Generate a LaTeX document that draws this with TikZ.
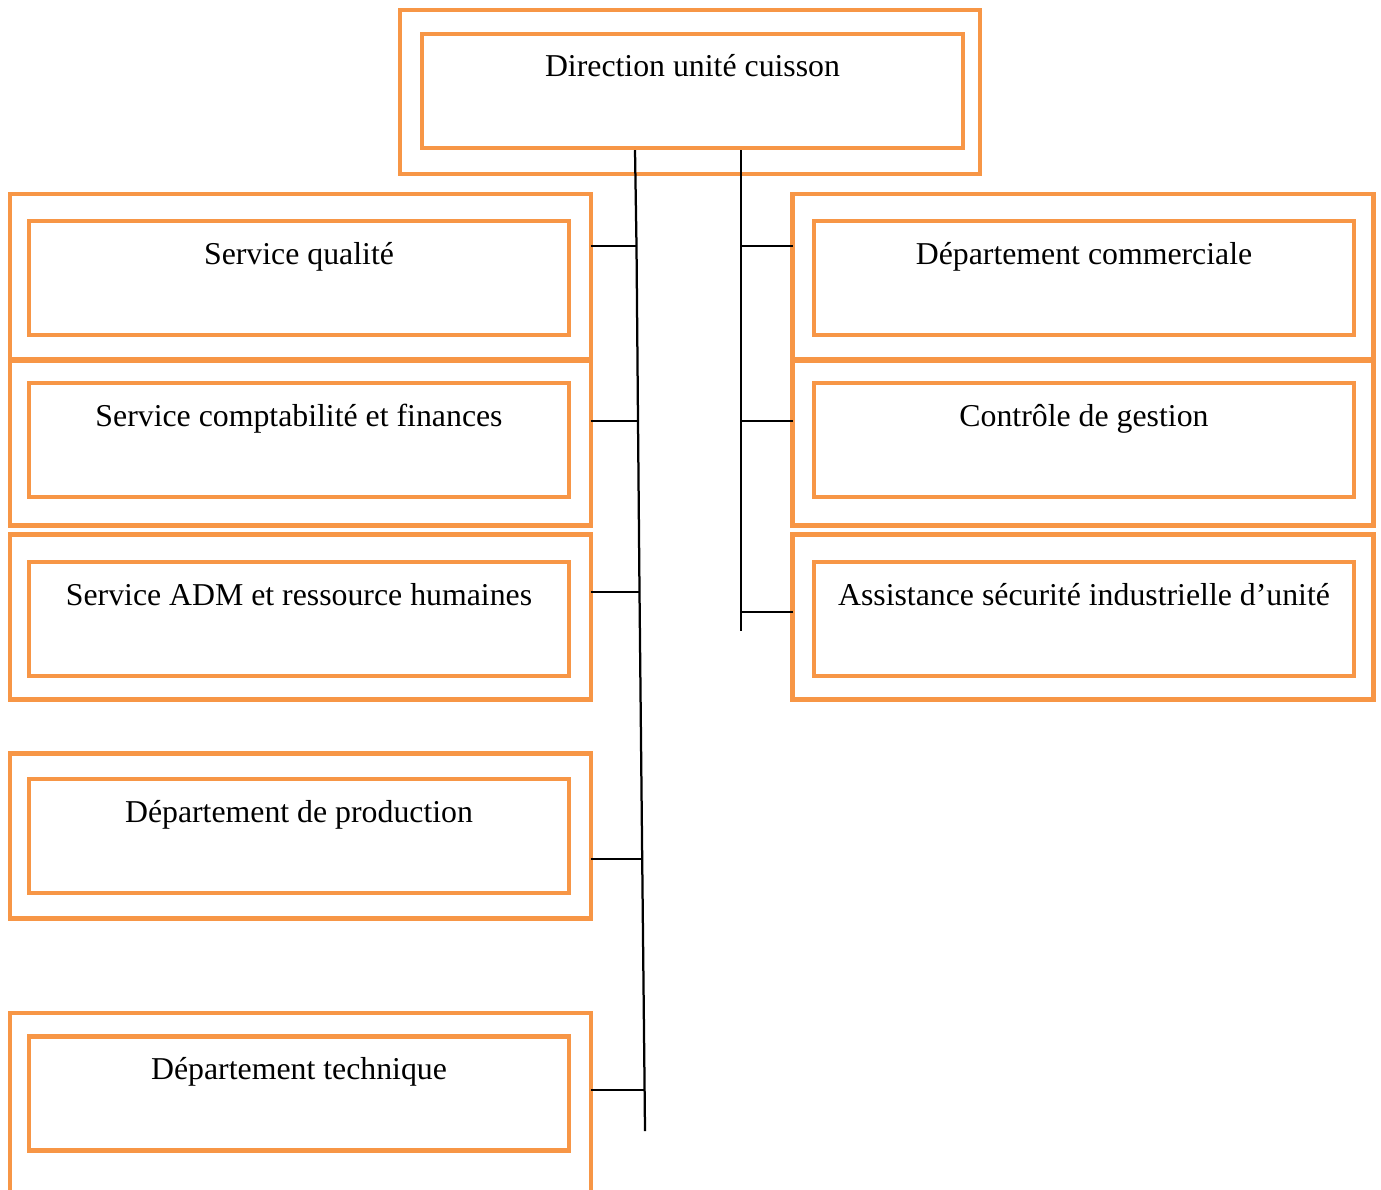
\documentclass[tikz,border=0pt]{standalone}
\usepackage{fontspec}
\setmainfont{Liberation Serif}
\usepackage{xcolor}
\usepackage{tikz}
\usetikzlibrary{positioning, calc}
\definecolor{orgline}{RGB}{247,150,70}
\tikzset{
  obox/.style={rectangle, draw=orgline, line width=0.09cm, outer sep=0pt, minimum width=11.62cm, minimum height=3.3cm},
  ibox/.style={rectangle, draw=orgline, line width=0.09cm, inner sep=0pt, minimum width=10.8cm,
               text height=0.86cm, text depth=1.42cm, align=center, font=\fontsize{18.1}{22}\selectfont},
  ln/.style={draw=black, line width=0.045cm},
}

\begin{document}
\begin{tikzpicture}[x=0.02cm, y=-0.02cm]
\useasboundingbox (0,0) rectangle (1381,1189);

% direction
\node[obox, minimum width=11.6cm, minimum height=3.28cm] (dirout) at (690,92) {};
\node[ibox, minimum width=10.82cm] (dir) at (692.5,91) {Direction unité cuisson};

% colonne gauche
\node[obox] (qualout) at (300.5,276.5) {};
\node[ibox] (qual) at (299,278) {Service qualité};
\node[obox] (comptout) at (300.5,443) {};
\node[ibox] (compt) at (299,440) {Service comptabilité et finances};
\node[obox] (admout) at (300.5,617) {};
\node[ibox] (adm) at (299,619) {Service ADM et ressource humaines};
\node[obox] (prodout) at (300.5,836) {};
\node[ibox] (prod) at (299,836) {Département de production};
\node[obox, minimum height=3.74cm] (techout) at (300.5,1106.5) {};
\node[ibox] (tech) at (299,1093.5) {Département technique};

% colonne droite
\node[obox] (commout) at (1083,276.5) {};
\node[ibox] (comm) at (1084,278) {Département commerciale};
\node[obox] (ctrlout) at (1083,443) {};
\node[ibox] (ctrl) at (1084,440) {Contrôle de gestion};
\node[obox] (secout) at (1083,617) {};
\node[ibox] (sec) at (1084,619) {Assistance sécurité industrielle d’unité};

% points des deux axes
\coordinate (lt0) at (dir.south -| 635,0);
\coordinate (lt1) at (636.5,246);
\coordinate (lt2) at (638,421);
\coordinate (lt3) at (639.5,592);
\coordinate (lt4) at (642.2,859);
\coordinate (lt5) at (644.6,1090);
\coordinate (lt6) at (645,1131);
\coordinate (rt0) at (dir.south -| 741,0);
\coordinate (rt1) at (741,246);
\coordinate (rt2) at (741,421);
\coordinate (rt3) at (741,612);
\coordinate (rt4) at (741,631);

% liaisons
\draw[ln] (lt0) -- (lt1) -- (lt2) -- (lt3) -- (lt4) -- (lt5) -- (lt6);
\draw[ln] (rt0) -- (rt4);
\draw[ln] (qualout.east |- lt1) -- (lt1);
\draw[ln] (comptout.east |- lt2) -- (lt2);
\draw[ln] (admout.east |- lt3) -- (lt3);
\draw[ln] (prodout.east |- lt4) -- (lt4);
\draw[ln] (techout.east |- lt5) -- (lt5);
\draw[ln] (rt1) -- (commout.west |- rt1);
\draw[ln] (rt2) -- (ctrlout.west |- rt2);
\draw[ln] (rt3) -- (secout.west |- rt3);

\end{tikzpicture}
\end{document}
